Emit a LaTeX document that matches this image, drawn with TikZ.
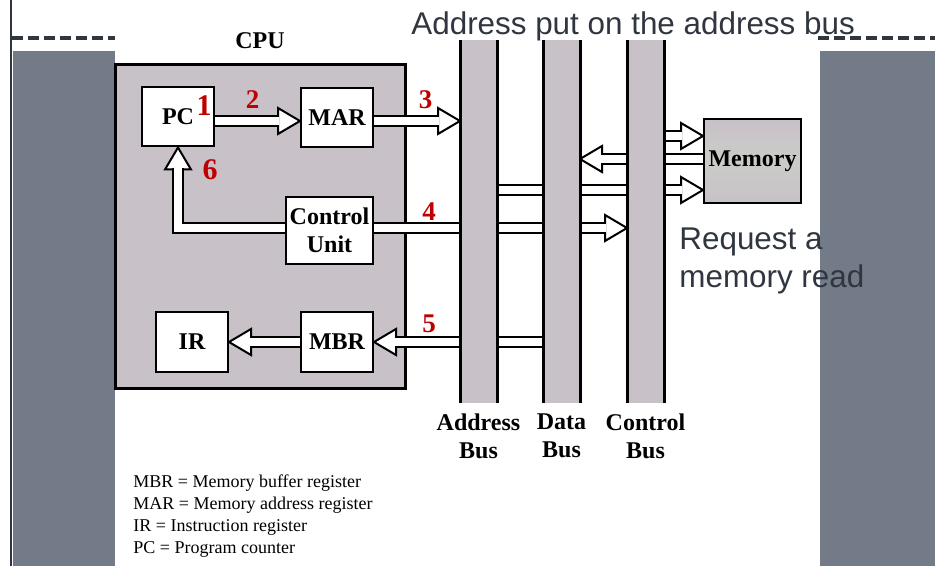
\documentclass[tikz,border=0pt]{standalone}
\usepackage{fontspec}
\setmainfont{Liberation Serif}
\newfontfamily\slidefont{Liberation Sans}
\usetikzlibrary{arrows.meta, positioning, calc}
\definecolor{cpufill}{HTML}{C8C1C8}
\definecolor{memmid}{HTML}{CBCCC8}
\definecolor{stepred}{HTML}{C00000}
\definecolor{slideink}{HTML}{303640}
\definecolor{slidepanel}{HTML}{737A88}

\tikzset{
  reg/.style={draw, line width=1pt, fill=white, inner sep=0pt, minimum width=36pt,
    minimum height=29.5pt, align=center, font=\bfseries\fontsize{12}{14}\selectfont},
  stepno/.style={text=stepred, inner sep=0pt, font=\bfseries\fontsize{13.5}{14}\selectfont},
  bigstepno/.style={stepno, font=\bfseries\fontsize{15}{15}\selectfont},
  shaft/.style={double=white, double distance=4pt, line width=1pt, shorten >=-0.5pt},
  busarea/.style={inner sep=0pt, outer sep=0pt, minimum width=18.5pt, minimum height=181.5pt},
  buslabel/.style={inner sep=0pt, align=center, font=\bfseries\fontsize{12}{14}\selectfont},
  slidetext/.style={inner sep=0pt, text=slideink, align=left,
    font=\slidefont\fontsize{15.7}{19}\selectfont},
  head/.pic={
    \draw[line width=1pt, fill=white] (0,0) -- (-22,-13) -- (-22,13) -- cycle;
    \coordinate (-base) at (-22,0);
  }
}

\begin{document}
\begin{tikzpicture}[x=0.5pt, y=-0.5pt]
  \useasboundingbox (0,0) rectangle (935,566);

  % Folie: Seitenflaechen und Linien
  \fill[slidepanel] (13,51) rectangle (115,566);
  \fill[slidepanel] (820,51) rectangle (935,566);
  \draw[slideink, line width=1.4pt] (11,0) -- (11,566);
  \draw[slideink, line width=2pt, dash pattern=on 5.3pt off 2.7pt] (12,38) -- (115,38);
  \draw[slideink, line width=2pt, dash pattern=on 5.3pt off 2.7pt] (818,38) -- (935,38);

  % CPU
  \node[draw, line width=1.5pt, fill=cpufill, minimum width=145pt, minimum height=161.5pt,
    inner sep=0pt] (cpu) at (260,226.5) {};
  \node[buslabel, above=7pt of cpu] (cpulbl) {CPU};

  % Register
  \node[reg] (pc) at (178,117) {PC};
  \node[reg] (mar) at (337,117.5) {MAR};
  \node[reg, minimum width=43.5pt, minimum height=33.5pt] (cu) at (329.5,230.5) {Control\\Unit};
  \node[reg, minimum height=30pt] (ir) at (192,342) {IR};
  \node[reg, minimum height=30pt] (mbr) at (337,342) {MBR};

  % Speicher
  \node[reg, minimum width=48.5pt, minimum height=42pt, top color=cpufill,
    bottom color=cpufill, middle color=memmid] (mem) at (752.5,161) {Memory};

  % Busse (nur Lage, gezeichnet weiter unten)
  \node[busarea] (abus) at (478.5,221.5) {};
  \node[busarea] (dbus) at (561.5,221.5) {};
  \node[busarea] (cbus) at (645.5,221.5) {};

  \coordinate (row2) at (0,121);
  \coordinate (row4) at (0,228);
  \coordinate (row5) at (0,342);
  \coordinate (mrow1) at (0,136);
  \coordinate (mrow2) at (0,159);
  \coordinate (mrow3) at (0,190);

  % Pfeile in der CPU
  \pic (h2) at (mar.west |- row2) {head};
  \draw[shaft] (pc.east |- row2) -- (h2-base);
  \pic (h3) at (abus.west |- row2) {head};
  \draw[shaft] (mar.east |- row2) -- (h3-base);
  \pic (h4) at (cbus.west |- row4) {head};
  \draw[shaft] (cu.east |- row4) -- (h4-base);
  \pic[rotate=90] (h6) at (pc.south) {head};
  \draw[shaft] (cu.west |- row4) -| (h6-base);
  \pic[rotate=180] (h5) at (mbr.east |- row5) {head};
  \draw[shaft] (dbus.west |- row5) -- (h5-base);
  \pic[rotate=180] (hir) at (ir.east |- row5) {head};
  \draw[shaft] (mbr.west |- row5) -- (hir-base);

  % Pfeile zum Speicher
  \pic (hm1) at (mem.west |- mrow1) {head};
  \draw[shaft] (cbus.east |- mrow1) -- (hm1-base);
  \pic[rotate=180] (hm2) at (dbus.east |- mrow2) {head};
  \draw[shaft] (mem.west |- mrow2) -- (hm2-base);
  \pic (hm3) at (mem.west |- mrow3) {head};
  \draw[shaft] (abus.east |- mrow3) -- (hm3-base);

  % Busse
  \foreach \b in {abus, dbus, cbus} {
    \fill[cpufill] (\b.north west) rectangle (\b.south east);
    \draw[line width=1.5pt] (\b.north west) -- (\b.south west)
      (\b.north east) -- (\b.south east);
  }
  \node[buslabel, below=5pt of abus] (albl) {Address\\Bus};
  \node[buslabel, below=5pt of dbus] (dlbl) {Data\\Bus};
  \node[buslabel, below=5pt of cbus] (clbl) {Control\\Bus};

  % Schritte
  \node[bigstepno] (n1) at (204,106) {1};
  \node[stepno] (n2) at (252.5,100) {2};
  \node[stepno] (n3) at (425.5,100) {3};
  \node[stepno] (n4) at (429,211.5) {4};
  \node[stepno] (n5) at (429,323.5) {5};
  \node[bigstepno] (n6) at (210,170) {6};

  % Legende
  \node[anchor=north west, inner sep=0pt, align=left, font=\fontsize{9}{11}\selectfont]
    (legend) at (133,474) {MBR = Memory buffer register\\MAR = Memory address register\\
    IR = Instruction register\\PC = Program counter};

  % Folientexte
  \node[slidetext, anchor=base west] (headline) at (411,35) {Address put on the address bus};
  \node[slidetext, anchor=north west] (note) at (679,227) {Request a\\memory read};
\end{tikzpicture}
\end{document}
